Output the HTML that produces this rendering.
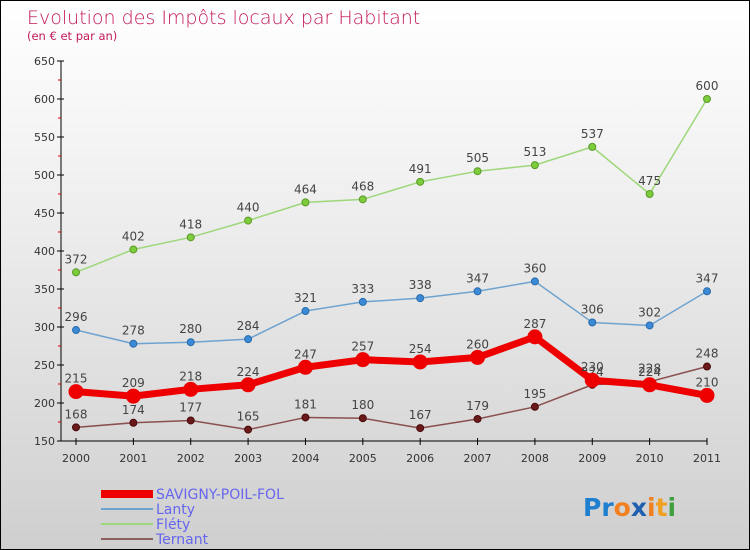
<!DOCTYPE html>
<html><head><meta charset="utf-8"><style>
body{margin:0;}
#c{width:748px;height:548px;border:1px solid #000;background:linear-gradient(#ffffff,#f2f2f2 30%,#cfcfcf);position:relative;overflow:hidden;font-family:"DejaVu Sans","Liberation Sans",sans-serif;}
svg{position:absolute;left:0;top:0;}
</style></head><body>
<div id="c">
<svg id="s" width="748" height="548">
<text x="26" y="23" font-size="19" fill="#c2185b" font-weight="200">Evolution des Impôts locaux par Habitant</text>
<text x="26" y="39" font-size="11.5" fill="#c2185b">(en € et par an)</text>
<g id="axes"></g><g id="series"></g>
<g>
<rect x="100" y="489" width="52" height="8" fill="#e00"/>
<text x="155" y="498" font-size="14" fill="#6666ee">SAVIGNY-POIL-FOL</text>
<line x1="100" y1="508" x2="152" y2="508" stroke="#6fa3cf" stroke-width="2"/>
<text x="155" y="513" font-size="14" fill="#6666ee">Lanty</text>
<line x1="100" y1="523" x2="152" y2="523" stroke="#9ed77a" stroke-width="2"/>
<text x="155" y="528" font-size="14" fill="#6666ee">Fléty</text>
<line x1="100" y1="538" x2="152" y2="538" stroke="#8a6060" stroke-width="2"/>
<text x="155" y="543" font-size="14" fill="#6666ee">Ternant</text>
</g>
<text x="582" y="515" font-size="25" font-weight="bold"><tspan fill="#1e7fd0">Pr</tspan><tspan fill="#f08020">o</tspan><tspan fill="#1e5fb0">x</tspan><tspan fill="#f08020">i</tspan><tspan fill="#f0a020">t</tspan><tspan fill="#40a040">i</tspan></text>
</svg></div>
<script>
const years=[2000,2001,2002,2003,2004,2005,2006,2007,2008,2009,2010,2011];
const yTicks=[150,200,250,300,350,400,450,500,550,600,650];
const savigny=[215,209,218,224,247,257,254,260,287,230,224,210];
const lanty=[296,278,280,284,321,333,338,347,360,306,302,347];
const flety=[372,402,418,440,464,468,491,505,513,537,475,600];
const ternant=[168,174,177,165,181,180,167,179,195,224,228,248];
const NS="http://www.w3.org/2000/svg";
const X=i=>75+i*(706-75)/(years.length-1);
const Y=v=>440-(v-150)*0.76;
function mk(t,a,p){const e=document.createElementNS(NS,t);for(const k in a)e.setAttribute(k,a[k]);p.appendChild(e);return e;}
const ax=document.getElementById('axes'),se=document.getElementById('series');
let l=mk('line',{x1:60,y1:Y(650),x2:60,y2:Y(150),stroke:'#000'},ax);


l=mk('line',{x1:60,y1:Y(150),x2:706,y2:Y(150),stroke:'#000'},ax);


yTicks.forEach((v,i)=>{
 mk('line',{x1:56,y1:Y(v),x2:63,y2:Y(v),stroke:'#000'},ax);
 if(i<yTicks.length-1)mk('line',{x1:57,y1:Y(v+25),x2:60,y2:Y(v+25),stroke:'#d00'},ax);
 const t=mk('text',{x:54,y:Y(v)+4,'font-size':11,'text-anchor':'end',fill:'#333'},ax);
 t.textContent=v;
 
 
});
years.forEach((y,i)=>{
 mk('line',{x1:X(i),y1:Y(150)-3,x2:X(i),y2:Y(150)+4,stroke:'#000'},ax);
 const t=mk('text',{x:X(i),y:Y(150)+21,'font-size':11,'text-anchor':'middle',fill:'#333'},ax);
 t.textContent=y;
 
 
});
function series(d,name,col,dot,w,r,dotStroke){
 const g=mk('g',{},se);
 
 
 const p=mk('polyline',{points:d.map((v,i)=>X(i)+','+Y(v)).join(' '),fill:'none',stroke:col,'stroke-width':w,'stroke-linejoin':'round'},g);
 
 
 d.forEach((v,i)=>{
  const c=mk('circle',{cx:X(i),cy:Y(v),r:r,fill:dot,stroke:dotStroke,'stroke-width':1},g);
  
  
  const t=mk('text',{x:X(i),y:Y(v)-9,'font-size':12,'text-anchor':'middle',fill:'#444'},g);
  t.textContent=v;
  
  
 });
}
series(flety,'flety','#9ed77a','#7ccc3c',1.5,3.5,'#5a9a2a');
series(lanty,'lanty','#6fa3cf','#3a8ad8',1.5,3.5,'#2a6aa8');
series(ternant,'ternant','#8a5050','#6a1a1a',1.5,3.5,'#4a0a0a');
series(savigny,'savigny','#ee0000','#ee0000',7,7,'#ee0000');
</script>
</body></html>
